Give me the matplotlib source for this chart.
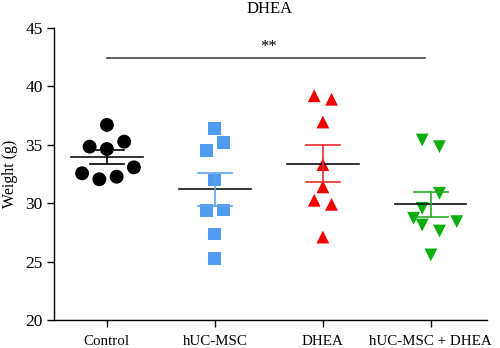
import numpy as np
import matplotlib
matplotlib.use("Agg")
import matplotlib.pyplot as plt

plt.rcParams["font.family"] = ["Liberation Serif", "DejaVu Serif"]

groups = ["Control", "hUC-MSC", "DHEA", "hUC-MSC + DHEA"]

control = [36.70, 34.84, 34.64, 35.27, 32.56, 32.05, 32.27, 33.07]
control_dx = [0.0, -0.16, 0.0, 0.16, -0.23, -0.07, 0.09, 0.25]

huc = [36.41, 35.21, 34.50, 31.99, 29.36, 29.42, 27.36, 25.28]
huc_dx = [0.0, 0.08, -0.08, 0.0, -0.08, 0.08, 0.0, 0.0]

dhea = [39.20, 38.90, 36.95, 33.30, 31.40, 30.25, 29.90, 27.10]
dhea_dx = [-0.08, 0.08, 0.0, 0.0, 0.0, -0.08, 0.08, 0.0]

combo = [35.41, 34.84, 30.85, 29.56, 28.71, 28.13, 27.62, 28.42, 25.57]
combo_dx = [-0.08, 0.08, 0.08, -0.08, -0.16, -0.08, 0.08, 0.24, 0.0]

series = [
    (control, control_dx, "o", "#000000", "#000000"),
    (huc, huc_dx, "s", "#4f9bef", "#5fa3ee"),
    (dhea, dhea_dx, "^", "#f20000", "#ee2a2a"),
    (combo, combo_dx, "v", "#0aae0a", "#2eaa2e"),
]

sig_pair = (1, 4)
sig_y = 42.4
sig_text = "**"

fig = plt.figure(figsize=(5.0, 3.48), dpi=100)
ax = fig.add_axes([0.108, 0.0805, 0.866, 0.839])

for i, (vals, dx, mk, col, ecol) in enumerate(series):
    x0 = i + 1
    vals = np.asarray(vals)
    xs = x0 + np.asarray(dx)
    ax.scatter(xs, vals, marker=mk, s=85 if mk != "o" else 100, color=col,
               edgecolors="none", zorder=3)
    m = vals.mean()
    sem = vals.std(ddof=1) / np.sqrt(len(vals))
    # mean line
    ax.plot([x0 - 0.33, x0 + 0.33], [m, m], color="#111111", lw=1.2, zorder=4)
    # SEM bar with caps
    ax.plot([x0, x0], [m - sem, m + sem], color=ecol, lw=1.2, zorder=4)
    for yy in (m - sem, m + sem):
        ax.plot([x0 - 0.16, x0 + 0.16], [yy, yy], color=ecol, lw=1.2, zorder=4)

# significance bracket
ax.plot([sig_pair[0], sig_pair[1] - 0.05], [sig_y, sig_y], color="#444444", lw=1.2)
ax.text(2.5, sig_y + 0.3, sig_text, ha="center", va="bottom", fontsize=12)

ax.set_xlim(0.51, 4.52)
ax.set_ylim(20, 45)
ax.set_yticks([20, 25, 30, 35, 40, 45])
ax.set_xticks([1, 2, 3, 4])
ax.set_xticklabels(groups)
ax.tick_params(axis="both", direction="out", length=5, width=1)
ax.tick_params(axis="y", labelsize=12.5, pad=3)
ax.tick_params(axis="x", labelsize=10.8, pad=6)
for s in ("top", "right"):
    ax.spines[s].set_visible(False)
for s in ("left", "bottom"):
    ax.spines[s].set_linewidth(1)
ax.set_ylabel("Weight (g)", fontsize=11.5)
ax.yaxis.set_label_coords(-0.083, 0.5)

fig.text(0.54, 0.975, "DHEA", ha="center", va="center", fontsize=12)

fig.savefig("out.png", dpi=100)
